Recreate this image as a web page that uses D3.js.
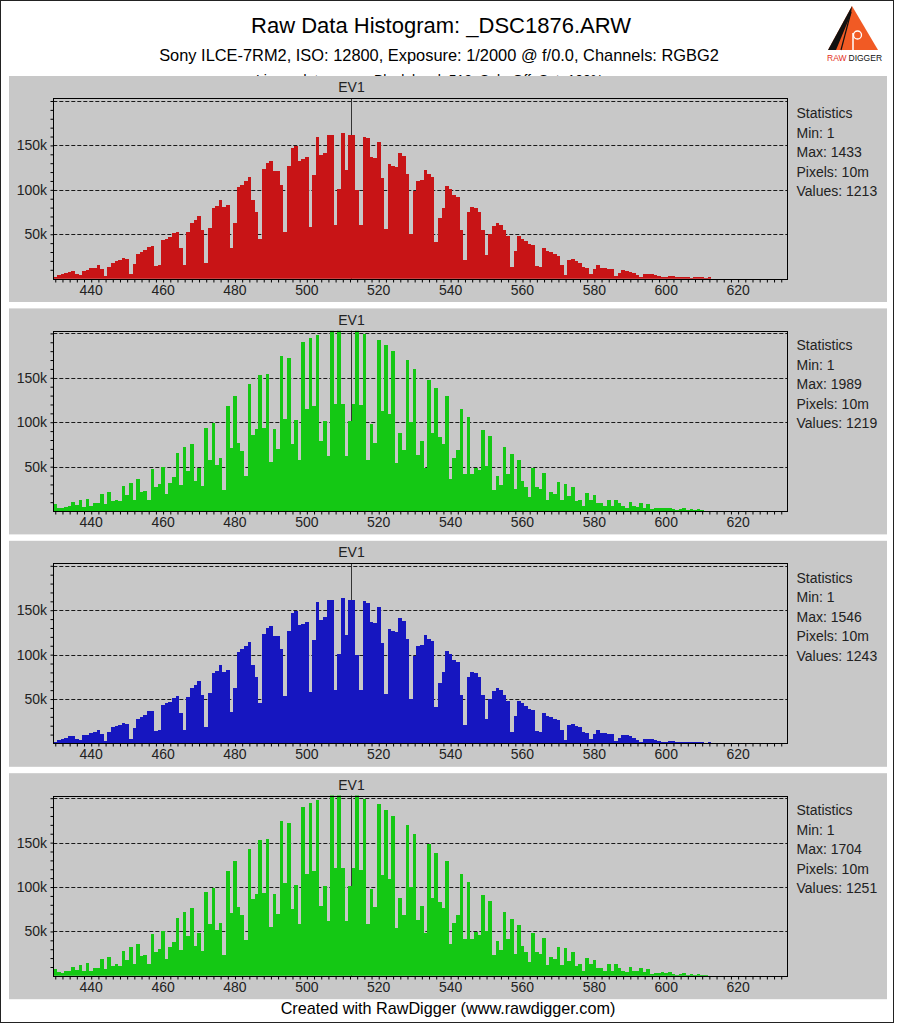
<!DOCTYPE html>
<html><head><meta charset="utf-8">
<script src="https://cdn.jsdelivr.net/npm/d3@7"></script>
<style>
body{margin:0;background:#fff}
svg{display:block}
text{font-family:Arial,"Liberation Sans",sans-serif;fill:#000}
</style>
</head><body>
<svg id="chart" width="897" height="1024"></svg>
<script>
// ---------- data (counts in thousands, one bin per raw value starting at firstValue) ----------
const firstValue = 430;
const redCounts = [2,4,5,6,8,8.5,5,4,9,10,12,12.5,15,11,3,13,18,20,21,23,22,5,17,28,30,32,36,37,14,15,
43,45,47,51,53,34,15,52,63,66,70,55,18,57,79,82,88,81,83,35,63,103,106,110,114,88,75,45,123,130,
132,121,121,106,53,127,147,149,133,135,137,58,117,159,139,142,162,162,60,101,164,122,162,162,100,60,160,158,137,136,
154,113,56,129,127,126,141,138,118,50,99,110,111,122,118,115,41,68,80,104,101,94,92,55,21,75,81,79,75,55,
27,50,59,63,60,55,48,13,31,48,45,42,39,38,14,13,34,31,30,28,26,15,4,21,22,20,18,13,12,5,
11,15,12,12,11,11,3,6,10,9,8,6,4,2,5,5,5,4,3,2,1.5,3,3,2,2,2,1.5,1.2,2,2,2,1,2];
const green1Counts = [8,4,3,5,6,10,7,12,5,14,6,9,9,19,8,21,11,13,11,28,18,32,13,36,22,23,13,47,27,30,
50,19,32,38,65,29,72,45,76,34,48,28,94,58,99,52,60,24,118,71,129,77,68,40,143,86,92,153,93,154,
55,92,70,174,104,172,75,102,58,190,115,195,118,198,79,101,62,205,121,205,121,62,101,121,205,119,199,58,98,77,
193,113,187,109,180,54,88,69,170,100,160,63,79,48,148,88,138,83,76,129,36,60,69,115,42,106,42,49,46,91,
51,84,24,39,29,72,42,64,25,57,34,27,16,48,27,25,43,12,21,19,33,12,31,17,27,11,13,6,20,13,
18,9,9,6,13,6,13,9,6,4,10,6,5,9,4,8,2,3,3,4,3,4,2,1.5,2,3,1.5,2.5,1.5,2,1,0.5,0.3];
const blueCounts = [2,4,5,6,8,8.5,5,4,9,10,12,12.5,15,11,3,13,18,20,21,23,22,5,17,28,30,32,36,37,14,15,
43,45,47,51,53,34,15,52,63,66,70,55,18,57,79,82,88,81,83,35,63,103,106,110,114,88,75,45,123,130,
132,121,121,106,53,127,147,149,133,135,137,58,117,159,139,142,162,162,60,101,164,122,162,162,100,60,160,158,137,136,
154,113,56,129,127,126,141,138,118,50,99,110,111,122,118,115,41,68,80,104,101,94,92,55,21,75,81,79,75,55,
27,50,59,63,60,55,48,13,31,48,45,42,39,38,14,13,34,31,30,28,26,15,4,21,22,20,18,13,12,5,
11,15,12,12,11,11,3,6,10,9,8,6,4,2,5,5,5,4,3,2,1.5,3,3,2,2,2,1.5,1.2,2,2,2,1,2];
const green2Counts = [8,4,3,5,6,10,7,12,5,14,6,9,9,19,8,21,11,13,11,28,18,32,13,36,22,23,13,47,27,30,
50,19,32,38,65,29,72,45,76,34,48,28,94,58,99,52,60,24,118,71,129,77,68,40,143,86,92,153,93,154,
55,92,70,174,104,172,75,102,58,190,115,195,118,198,79,101,62,205,121,205,121,62,101,121,205,119,199,58,98,77,
193,113,187,109,180,54,88,69,170,100,160,63,79,48,148,88,138,83,76,129,36,60,69,115,42,106,42,49,46,91,
51,84,24,39,29,72,42,64,25,57,34,27,16,48,27,25,43,12,21,19,33,12,31,17,27,11,13,6,20,13,
18,9,9,6,13,6,13,9,6,4,10,6,5,9,4,8,2,3,3,4,3,4,2,1.5,2,3,1.5,2.5,1.5,2,1,0.5,0.3];
const channelColors = ["#c81416","#14c814","#1616c0","#14c814"];
const xTickLabels = [440,460,480,500,520,540,560,580,600,620];
const yTickLabels = [50,100,150];
const gridValues = [50,100,150,200];
const statsMin = [1,1,1,1];
const statsMax = [1433,1989,1546,1704];
const statsPixels = ["10m","10m","10m","10m"];
const statsValues = [1213,1219,1243,1251];
const ev1Value = 512.2;
const titleText = "Raw Data Histogram:  _DSC1876.ARW";
const subtitleText = "Sony ILCE-7RM2, ISO: 12800, Exposure: 1/2000 @ f/0.0, Channels: RGBG2";
const hiddenLineParts = ["Linear data,", "Black level: 512, Sub: Off, Sat: 100%"];
const footerText = "Created with RawDigger (www.rawdigger.com)";

const series = [redCounts, green1Counts, blueCounts, green2Counts];

// ---------- layout ----------
const svg = d3.select("#chart");
svg.append("rect").attr("x",0).attr("y",0).attr("width",897).attr("height",1024).attr("fill","#fff");

// header
svg.append("text").attr("x",441).attr("y",33).attr("text-anchor","middle")
  .style("font-size","22px").text(titleText);
svg.append("text").attr("x",439).attr("y",61).attr("text-anchor","middle")
  .style("font-size","16.4px").text(subtitleText);
// third header line: only its top sliver shows above the first panel
svg.append("clipPath").attr("id","hdrclip").append("rect").attr("x",0).attr("y",0).attr("width",897).attr("height",76);
const hg = svg.append("g").attr("clip-path","url(#hdrclip)");
hg.append("text").attr("x",330).attr("y",85).attr("text-anchor","end")
  .style("font-size","14px").text(hiddenLineParts[0]);
hg.append("text").attr("x",374).attr("y",85)
  .style("font-size","14px").text(hiddenLineParts[1]);

// logo
const logo = svg.append("g");
logo.append("polygon").attr("points","852,6 828,50 878,50").attr("fill","#f15a24");
logo.append("polygon").attr("points","852,6 828,50 836,50 851,14").attr("fill","#111");
logo.append("path").attr("d","M851,12 L841,50").attr("stroke","#111").attr("stroke-width",1.2).attr("fill","none");
logo.append("path").attr("d","M853,50 L853,33").attr("stroke","#fff").attr("stroke-width",1.5).attr("fill","none");
logo.append("circle").attr("cx",857.5).attr("cy",35).attr("r",4).attr("stroke","#fff").attr("stroke-width",1.3).attr("fill","none");
logo.append("text").attr("x",827).attr("y",61)
  .style("font-size","8.5px").style("fill","#e4301c").text("RAW");
logo.append("text").attr("x",848.5).attr("y",61)
  .style("font-size","8.5px").style("fill","#111").text("DIGGER");

const panelStep = 232.4;
const plotLeft = 53.3, plotRight = 787;
const x = d3.scaleLinear().domain([429.45, 633.6]).range([plotLeft, plotRight]);

series.forEach((counts, i) => {
  const dy = i * panelStep;
  const top = 98.33 + dy, base = 278.67 + dy;
  const y = d3.scaleLinear().domain([0, 203]).range([base, top]);
  const g = svg.append("g");
  g.append("rect").attr("x",9).attr("y",76 + dy).attr("width",878).attr("height",226).attr("fill","#c8c8c8");

  const clipId = "clip" + i;
  g.append("clipPath").attr("id",clipId).append("rect")
    .attr("x",plotLeft).attr("y",top).attr("width",plotRight-plotLeft).attr("height",base-top);

  // grid
  g.selectAll(".grid").data(gridValues).enter().append("line")
    .attr("x1",plotLeft).attr("x2",plotRight)
    .attr("y1",d=>Math.round(y(d))+0.5).attr("y2",d=>Math.round(y(d))+0.5)
    .attr("stroke","#1a1a1a").attr("stroke-dasharray","4,2");

  // EV1 marker
  const evx = Math.round(x(ev1Value)) + 0.5;
  g.append("line").attr("x1",evx).attr("x2",evx).attr("y1",top).attr("y2",base).attr("stroke","#333");
  g.append("text").attr("x",evx).attr("y",top - 6).attr("text-anchor","middle").style("font-size","14px").style("fill","#222").text("EV1");

  // bars
  const data = counts.map((c, k) => ({v: firstValue + k, c}));
  g.append("g").attr("clip-path",`url(#${clipId})`).selectAll("rect").data(data).enter().append("rect")
    .attr("x", d => x(d.v - 0.5)).attr("width", d => x(d.v + 0.5) - x(d.v - 0.5))
    .attr("y", d => y(d.c)).attr("height", d => base - y(d.c))
    .attr("fill", channelColors[i]).attr("shape-rendering","crispEdges");

  // frame
  g.append("rect").attr("x",Math.round(plotLeft)+0.5).attr("y",Math.round(top)+0.5)
    .attr("width",Math.round(plotRight)-Math.round(plotLeft)).attr("height",Math.round(base)-Math.round(top))
    .attr("fill","none").attr("stroke","#000");

  // x axis
  const xa = d3.axisBottom(x).tickValues(d3.range(430, 634, 2)).tickSize(3).tickFormat("");
  g.append("g").attr("transform",`translate(0,${Math.round(base)+0.5})`).call(xa)
    .call(s => s.select(".domain").remove())
    .call(s => s.selectAll("line").attr("stroke","#000"));
  g.selectAll(".xl").data(xTickLabels).enter().append("text")
    .attr("x", d => x(d)).attr("y", base + 16).attr("text-anchor","middle")
    .style("font-size","14px").style("fill","#222").text(d => d);

  // y axis
  const ya = d3.axisLeft(y).tickValues(d3.range(10, 201, 10)).tickSize(3).tickFormat("");
  g.append("g").attr("transform",`translate(${Math.round(plotLeft)+0.5},0)`).call(ya)
    .call(s => s.select(".domain").remove())
    .call(s => s.selectAll("line").attr("stroke","#000"));
  g.selectAll(".yl").data(yTickLabels).enter().append("text")
    .attr("x", 47).attr("y", d => y(d) + 5).attr("text-anchor","end")
    .style("font-size","14px").style("fill","#222").text(d => d + "k");

  // statistics
  const lines = ["Statistics", "Min: " + statsMin[i], "Max: " + statsMax[i], "Pixels: " + statsPixels[i], "Values: " + statsValues[i]];
  g.selectAll(".st").data(lines).enter().append("text")
    .attr("x",796.5).attr("y",(d,k) => 118 + dy + k*19.5)
    .style("font-size","14px").style("fill","#222").text(d => d);
});

// footer
svg.append("text").attr("x",448).attr("y",1014).attr("text-anchor","middle")
  .style("font-size","16.2px").text(footerText);

// outer border
svg.append("rect").attr("x",0.5).attr("y",0.5).attr("width",893).attr("height",1022)
  .attr("fill","none").attr("stroke","#222");
</script>
</body></html>
